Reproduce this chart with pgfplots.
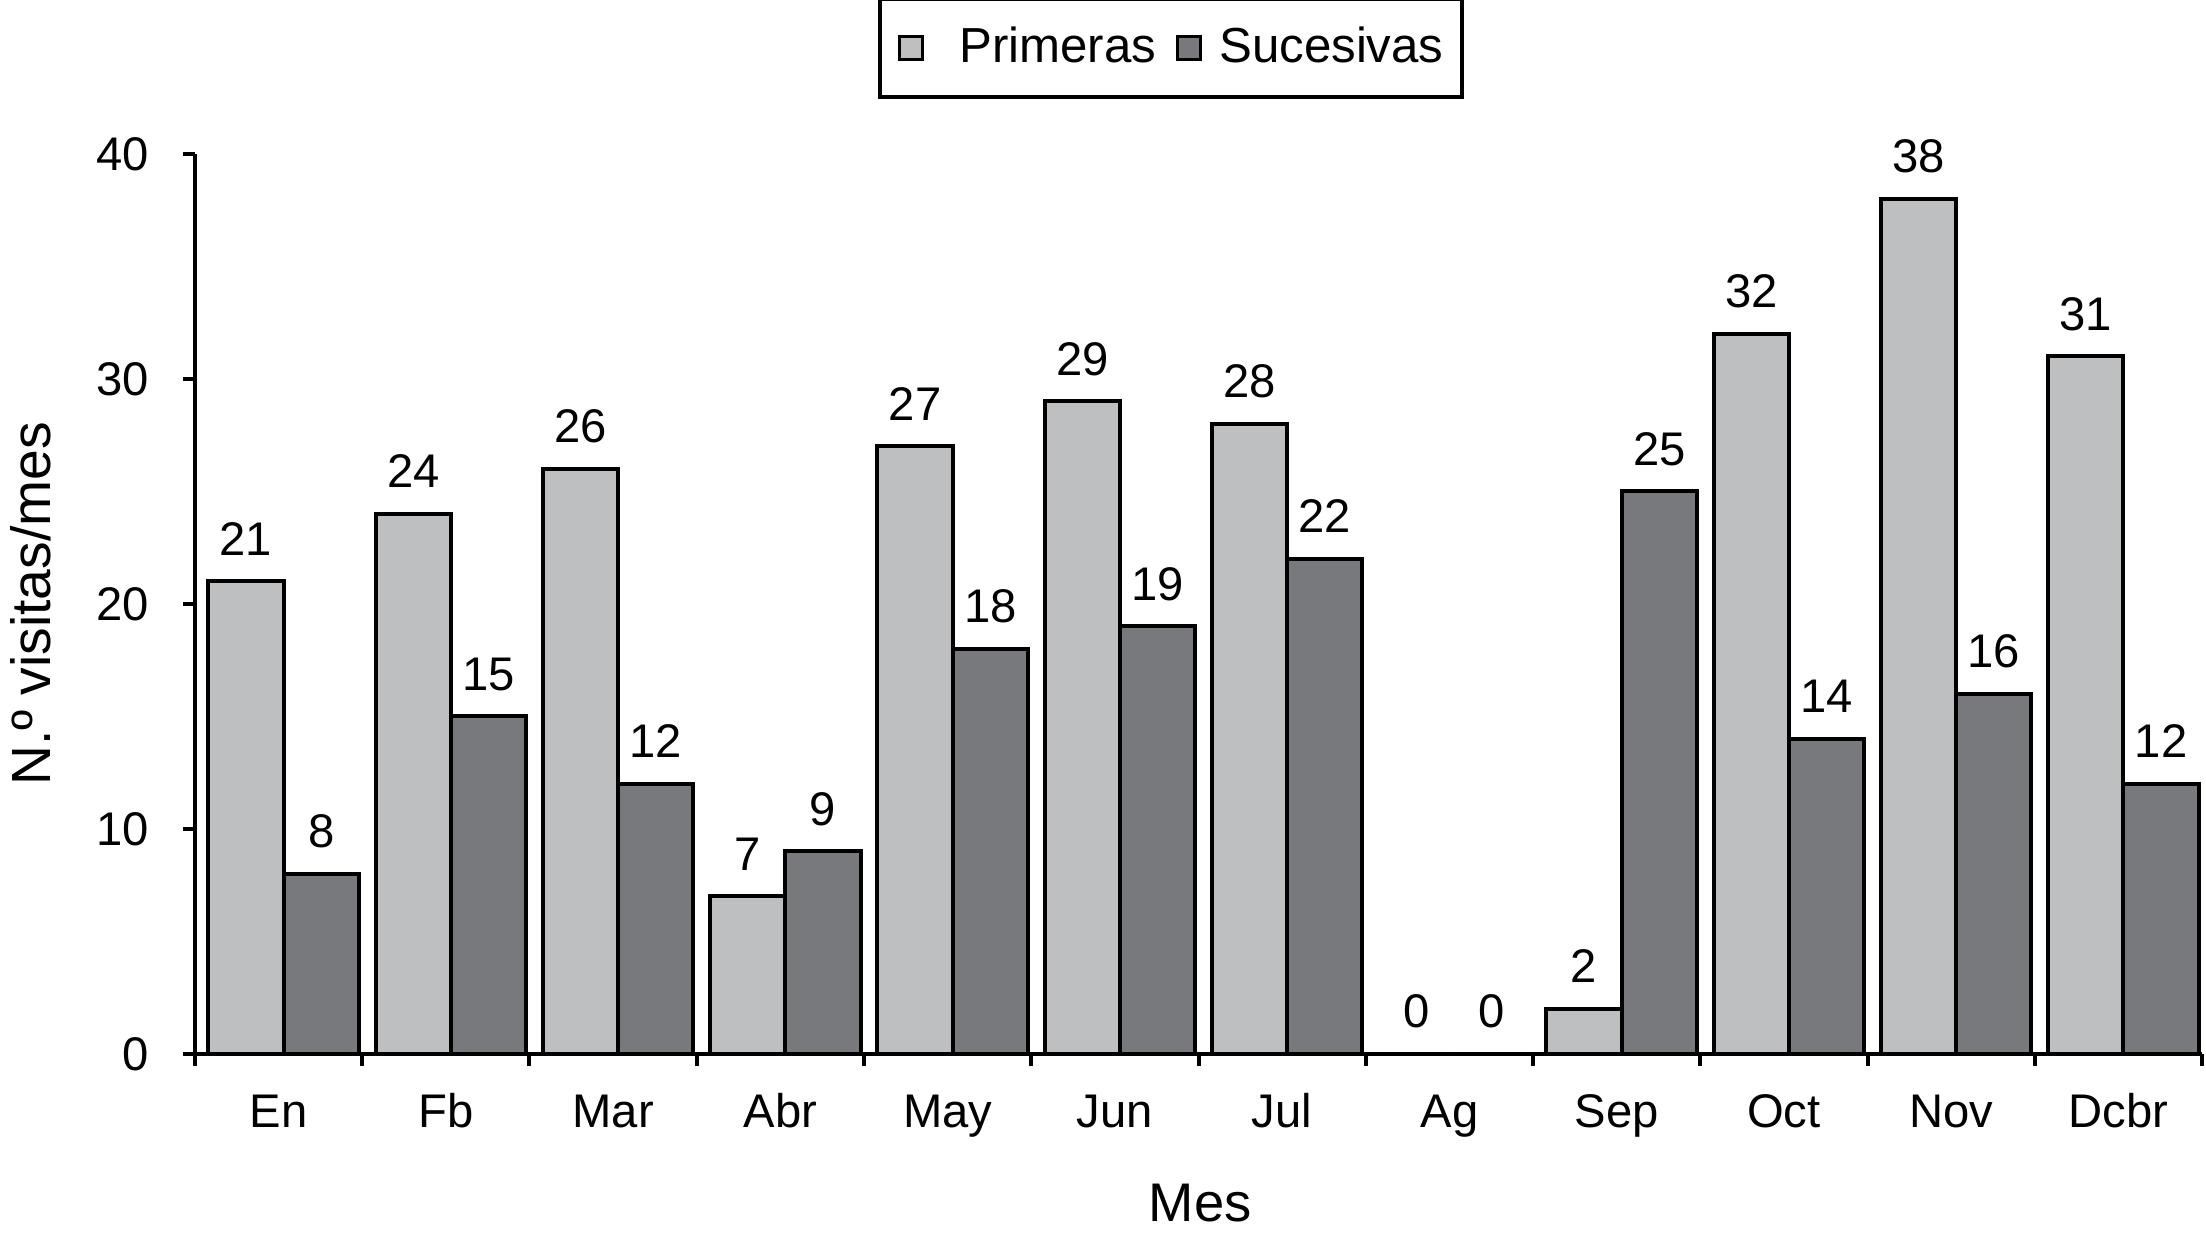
\documentclass[border=0pt]{standalone}
\usepackage{fontspec}
\setmainfont{Liberation Sans}
\usepackage{pgfplots}
\pgfplotsset{compat=1.18}
\definecolor{lightbar}{RGB}{190,191,193}
\definecolor{darkbar}{RGB}{120,121,125}
\begin{document}
\begin{tikzpicture}
\begin{axis}[
  scale only axis, width=501.75pt, height=225pt,
  ybar, bar width=0.45,
  xmin=-0.5, xmax=11.5, ymin=0, ymax=40,
  axis x line*=bottom, axis y line*=left,
  axis line style={line width=1pt, black},
  tick align=outside,
  major tick length=3pt,
  every tick/.style={black, line width=1pt},
  xtick={-0.5,0.5,1.5,2.5,3.5,4.5,5.5,6.5,7.5,8.5,9.5,10.5,11.5},
  x tick label as interval,
  xticklabels={En,Fb,Mar,Abr,May,Jun,Jul,Ag,Sep,Oct,Nov,Dcbr},
  ytick={0,10,20,30,40},
  /pgf/number format/assume math mode=true,
  tick label style={font=\fontsize{11.8}{13}\selectfont},
  xticklabel style={inner sep=0pt, text height=8.3pt, yshift=-7pt},
  yticklabel style={inner sep=0pt, xshift=-8.25pt},
  xlabel={Mes},
  ylabel={N.º visitas/mes},
  xlabel style={font=\fontsize{13.6}{15}\selectfont, at={(axis description cs:0.5008,-0.1656)}, anchor=center},
  ylabel style={font=\fontsize{13.8}{15}\selectfont, at={(axis description cs:-0.0817,0.5)}, anchor=center},
  nodes near coords,
  every node near coord/.append style={font=\fontsize{11.8}{13}\selectfont, inner sep=0pt, yshift=6pt, black},
  legend columns=2,
  legend style={at={(rel axis cs:0.4863,1.1745)}, anchor=north, draw=black, line width=1pt,
    font=\fontsize{12.3}{14}\selectfont, inner xsep=4.5pt, inner ysep=7pt,
    nodes={inner sep=0pt},
    /tikz/column 1/.append style={column sep=8.75pt},
    /tikz/column 2/.append style={column sep=5pt},
    /tikz/column 3/.append style={column sep=4.25pt}},
]
\addplot[draw=black, line width=1pt, fill=lightbar, bar shift=-0.195,
  legend image code/.code={\draw[fill=lightbar, draw=black, line width=0.75pt] (0.375pt,-2.875pt) rectangle (6.125pt,2.875pt);}]
  coordinates {(0,21) (1,24) (2,26) (3,7) (4,27) (5,29) (6,28) (7,0) (8,2) (9,32) (10,38) (11,31)};
\addplot[draw=black, line width=1pt, fill=darkbar, bar shift=0.255,
  legend image code/.code={\draw[fill=darkbar, draw=black, line width=0.75pt] (0.375pt,-2.875pt) rectangle (6.125pt,2.875pt);}]
  coordinates {(0,8) (1,15) (2,12) (3,9) (4,18) (5,19) (6,22) (7,0) (8,25) (9,14) (10,16) (11,12)};
\legend{Primeras, Sucesivas}
\coordinate (bl) at (rel axis cs:0,0);
\coordinate (tr) at (rel axis cs:1,1);
\end{axis}
\pgfresetboundingbox
\path[use as bounding box] ([shift={(-48.75pt,-48.75pt)}]bl) rectangle ([shift={(1pt,38.5pt)}]tr);
\end{tikzpicture}
\end{document}
